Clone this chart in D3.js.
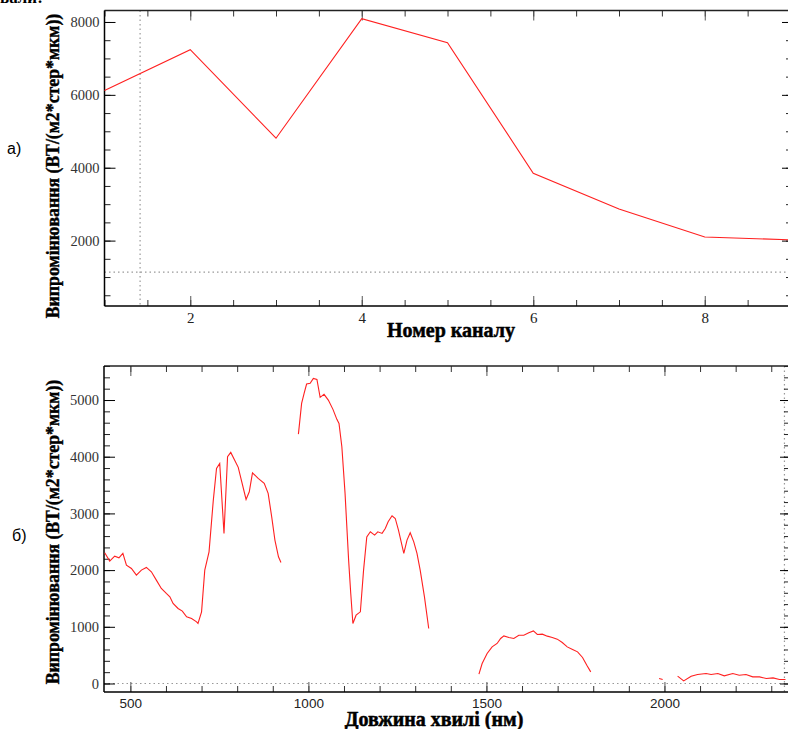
<!DOCTYPE html>
<html>
<head>
<meta charset="utf-8">
<script src="https://cdn.jsdelivr.net/npm/d3@7"></script>
<style>
  html, body { margin: 0; padding: 0; background: #fff; }
  svg { display: block; }
</style>
</head>
<body>
<svg id="chart" width="788" height="729"></svg>
<script>
// ---------- data: chart (a) ----------
const channels = [1, 2, 3, 4, 5, 6, 7, 8, 9];
const channelRadiance = [6120, 7240, 4810, 8090, 7430, 3850, 2865, 2100, 2020];
const topXMajorTicks = [2, 4, 6, 8];
const topYMajorTicks = [2000, 4000, 6000, 8000];
const topCursorX = 1.415;
const topCursorY = 1137;

// ---------- data: chart (b) ----------
const wavelengths = [
  428, 442, 456, 468, 479, 489, 503, 517, 531, 545, 559, 573, 587, 601, 611, 620, 634, 646, 658, 672, 686,
  690, 700, 709, 721, 733, 742, 751, 763, 773, 782, 803, 825, 834, 843, 859, 876, 887, 897, 906, 916, 923,
  940,
  972, 981, 988, 995, 1005, 1014, 1024, 1033, 1044, 1056, 1069, 1080, 1086, 1094, 1103, 1113, 1119, 1125,
  1134, 1146, 1155, 1164, 1174, 1186, 1195, 1207, 1216, 1224, 1235, 1244, 1253, 1268, 1277, 1286, 1296,
  1305, 1314, 1326, 1338,
  1400,
  1479, 1488, 1502, 1516, 1530, 1540, 1549, 1563, 1577, 1591, 1605, 1619, 1632, 1643, 1657, 1671, 1685,
  1699, 1713, 1727, 1742, 1756, 1770, 1782, 1793,
  1900,
  1985, 1995,
  2015,
  2037, 2054, 2075, 2093, 2117, 2131, 2150, 2168, 2192, 2210, 2229, 2248, 2267, 2286, 2305, 2323, 2340
];
const radiance = [
  2305, 2158, 2246, 2216, 2294, 2088, 2029, 1911, 2000, 2047, 1970, 1823, 1676, 1588, 1529, 1412, 1323, 1276, 1176, 1147, 1088,
  1059, 1264, 2000, 2322, 3235, 3794, 3882, 2647, 3999, 4076, 3812, 3247, 3381, 3716, 3617, 3529, 3353, 2940, 2529, 2234, 2135,
  null,
  4399, 4941, 5117, 5281, 5294, 5382, 5364, 5047, 5100, 4999, 4835, 4659, 4588, 4175, 3353, 2176, 1588, 1059,
  1205, 1264, 2000, 2587, 2676, 2617, 2676, 2647, 2735, 2852, 2958, 2911, 2705, 2294, 2529, 2658, 2499,
  2294, 2000, 1528, 970,
  null,
  164, 353, 529, 646, 706, 794, 840, 812, 794, 852, 852, 893, 928, 865, 870, 835, 812,
  782, 723, 646, 600, 558, 459, 323, 205,
  null,
  88, 70,
  null,
  129, 46, 129, 159, 176, 159, 176, 135, 176, 146, 159, 117, 117, 88, 99, 70, 70
];
const botXMajorTicks = [500, 1000, 1500, 2000];
const botYMajorTicks = [0, 1000, 2000, 3000, 4000, 5000];
const botCursorX = 2337;
const botCursorY = 0;

// ---------- drawing ----------
const svg = d3.select("#chart");
const serif = "'Liberation Serif', 'Times New Roman', serif";
const sans = "'Liberation Sans', Arial, sans-serif";

// partial text of the surrounding document at the very top
svg.append("text").attr("x", 0).attr("y", 3)
  .attr("font-family", serif).attr("font-size", 17).attr("font-weight", "bold")
  .attr("fill", "#000").text("вали:");

function styleAxis(g, color) {
  g.selectAll(".tick line").attr("stroke", color);
  g.select(".domain").remove();
}

function drawPanel(cfg) {
  const x = d3.scaleLinear().domain(cfg.xDomain).range([cfg.left, cfg.right]);
  const y = d3.scaleLinear().domain(cfg.yDomain).range([cfg.bottom, cfg.top]);
  const g = svg.append("g");

  // cursor dotted lines
  g.append("line").attr("x1", x(cfg.cursorX)).attr("x2", x(cfg.cursorX))
    .attr("y1", cfg.top).attr("y2", cfg.bottom)
    .attr("stroke", "#999").attr("stroke-width", 1.2).attr("stroke-dasharray", "1.5,3");
  g.append("line").attr("x1", cfg.left).attr("x2", cfg.right)
    .attr("y1", y(cfg.cursorY)).attr("y2", y(cfg.cursorY))
    .attr("stroke", "#999").attr("stroke-width", 1.2).attr("stroke-dasharray", "1.5,3");

  // minor ticks
  const xMinor = d3.range(Math.ceil(cfg.xDomain[0] / cfg.xMinorStep) * cfg.xMinorStep, cfg.xDomain[1] + 1e-9, cfg.xMinorStep);
  const yMinor = d3.range(Math.ceil(cfg.yDomain[0] / cfg.yMinorStep) * cfg.yMinorStep, cfg.yDomain[1] + 1e-9, cfg.yMinorStep);

  const bx = g.append("g").attr("transform", `translate(0,${cfg.bottom})`);
  bx.append("g").call(d3.axisBottom(x).tickValues(xMinor).tickSize(-6).tickFormat("")).call(s => styleAxis(s, "#333"));
  const bxMaj = bx.append("g").call(d3.axisBottom(x).tickValues(cfg.xTicks).tickSize(-10).tickPadding(cfg.xTickPad)
    .tickFormat(cfg.xFormat));
  styleAxis(bxMaj, "#555");
  bxMaj.attr("font-family", cfg.xTickFont);
  bxMaj.selectAll("text").attr("font-family", cfg.xTickFont).attr("font-size", cfg.xTickSize).attr("fill", "#222");

  const tx = g.append("g").attr("transform", `translate(0,${cfg.top})`);
  tx.append("g").call(d3.axisTop(x).tickValues(xMinor).tickSize(-6).tickFormat("")).call(s => styleAxis(s, "#333"));
  tx.append("g").call(d3.axisTop(x).tickValues(cfg.xTicks).tickSize(-10).tickFormat("")).call(s => styleAxis(s, "#555"));

  const ly = g.append("g").attr("transform", `translate(${cfg.left},0)`);
  ly.append("g").call(d3.axisLeft(y).tickValues(yMinor).tickSize(-6).tickFormat("")).call(s => styleAxis(s, "#222"));
  const lyMaj = ly.append("g").call(d3.axisLeft(y).tickValues(cfg.yTicks).tickSize(-11).tickPadding(5)
    .tickFormat(d3.format("d")));
  styleAxis(lyMaj, "#000");
  lyMaj.attr("font-family", serif);
  lyMaj.selectAll("text").attr("font-family", serif).attr("font-size", 14.5).attr("fill", "#333");

  const ry = g.append("g").attr("transform", `translate(${cfg.rightAxis},0)`);
  ry.append("g").call(d3.axisRight(y).tickValues(yMinor).tickSize(-5).tickFormat("")).call(s => styleAxis(s, "#222"));
  ry.append("g").call(d3.axisRight(y).tickValues(cfg.yTicks).tickSize(-9).tickFormat("")).call(s => styleAxis(s, "#000"));

  // frame lines
  g.append("line").attr("x1", cfg.left).attr("x2", cfg.rightAxis).attr("y1", cfg.top).attr("y2", cfg.top)
    .attr("stroke", "#222").attr("stroke-width", 1.3);
  g.append("line").attr("x1", cfg.left).attr("x2", cfg.rightAxis).attr("y1", cfg.bottom).attr("y2", cfg.bottom)
    .attr("stroke", "#000").attr("stroke-width", 1.5);
  g.append("line").attr("x1", cfg.left).attr("x2", cfg.left).attr("y1", cfg.top).attr("y2", cfg.bottom)
    .attr("stroke", "#000").attr("stroke-width", 1.5);

  // data line
  const pts = cfg.xs.map((d, i) => [d, cfg.ys[i]]);
  const line = d3.line().defined(d => d[1] != null).x(d => x(d[0])).y(d => y(d[1]));
  g.append("path").datum(pts).attr("d", line)
    .attr("fill", "none").attr("stroke", "#ff2020").attr("stroke-width", 1.1);

  // titles
  g.append("text").attr("x", cfg.xTitleX).attr("y", cfg.xTitleY).attr("text-anchor", "middle")
    .attr("font-family", serif).attr("font-weight", "bold").attr("font-size", 20)
    .attr("stroke", "#000").attr("stroke-width", 0.5)
    .text(cfg.xTitle);
  g.append("text").attr("transform", `translate(${cfg.yTitleX},${cfg.yTitleY}) rotate(-90)`)
    .attr("text-anchor", "middle")
    .attr("font-family", serif).attr("font-weight", "bold").attr("font-size", 17.8)
    .attr("stroke", "#000").attr("stroke-width", 0.4)
    .text("Випромінювання (ВТ/(м2*стер*мкм))");
  g.append("text").attr("x", cfg.tagX).attr("y", cfg.tagY)
    .attr("font-family", sans).attr("font-size", 16).attr("fill", "#000").text(cfg.tag);
}

drawPanel({
  xs: channels, ys: channelRadiance,
  xDomain: [1, 9], yDomain: [205, 8315],
  left: 104.5, right: 790.5, rightAxis: 791, top: 10.5, bottom: 306,
  xTicks: topXMajorTicks, yTicks: topYMajorTicks,
  xMinorStep: 0.5, yMinorStep: 500,
  xFormat: d3.format("d"), xTickFont: serif, xTickSize: 15, xTickPad: 6,
  cursorX: topCursorX, cursorY: topCursorY,
  xTitle: "Номер каналу", xTitleX: 451, xTitleY: 337,
  yTitleX: 59, yTitleY: 166,
  tag: "а)", tagX: 7, tagY: 154
});

drawPanel({
  xs: wavelengths, ys: radiance,
  xDomain: [426, 2347], yDomain: [-150, 5600],
  left: 104, right: 788, rightAxis: 789, top: 366, bottom: 692,
  xTicks: botXMajorTicks, yTicks: botYMajorTicks,
  xMinorStep: 100, yMinorStep: 200,
  xFormat: d3.format("d"), xTickFont: sans, xTickSize: 13.5, xTickPad: 6,
  cursorX: botCursorX, cursorY: botCursorY,
  xTitle: "Довжина хвилі (нм)", xTitleX: 434, xTitleY: 726,
  yTitleX: 59, yTitleY: 532,
  tag: "б)", tagX: 12, tagY: 541
});
</script>
</body>
</html>
